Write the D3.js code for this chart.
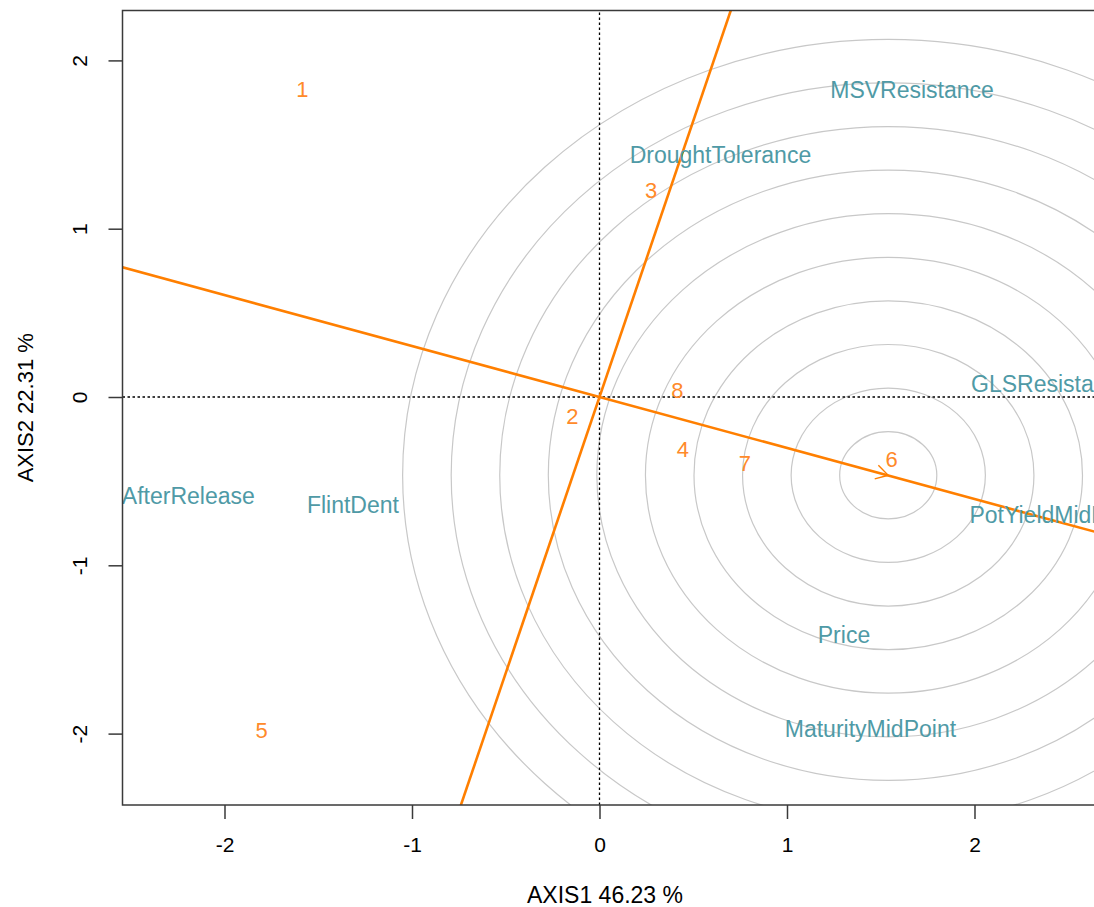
<!DOCTYPE html>
<html>
<head>
<meta charset="utf-8">
<script src="https://cdn.jsdelivr.net/npm/d3@7"></script>
<style>
  html, body { margin: 0; padding: 0; background: #ffffff; }
  svg { display: block; font-family: "Liberation Sans", Arial, sans-serif; }
</style>
</head>
<body>
<svg id="chart" width="1094" height="907"></svg>
<script>
// Individuals (orange numbers)
const pointLabels = ["1", "2", "3", "4", "5", "6", "7", "8"];
const pointX = [-1.584, -0.144, 0.275, 0.445, -1.802, 1.558, 0.776, 0.416];
const pointY = [1.827, -0.117, 1.230, -0.312, -1.979, -0.371, -0.394, 0.042];

// Variables (teal names)
const varLabels = ["MSVResistance", "DroughtTolerance", "GLSResistance", "PotYieldMidPoint",
                   "AfterRelease", "FlintDent", "Price", "MaturityMidPoint"];
const varX = [1.667, 0.645, 2.408, 2.438, -2.193, -1.315, 1.304, 1.445];
const varY = [1.824, 1.438, 0.080, -0.701, -0.585, -0.639, -1.414, -1.970];

// Preference direction: arrow tip (ideal point) and the iso-preference circles around it
const idealPoint = [1.54, -0.465];
const circleStep = 0.259;
const circleCount = 10;

// Slopes of the two lines through the origin
const lineSlopes = [-0.303, 3.28];

// Axes
const xTicks = [-2, -1, 0, 1, 2];
const yTicks = [-2, -1, 0, 1, 2];
const xTitle = "AXIS1 46.23 %";
const yTitle = "AXIS2 22.31 %";
const xDomain = [-2.544, 2.6427];
const yDomain = [-2.4242, 2.2965];

const svg = d3.select("#chart");
const plotLeft = 122.5, plotRight = 1095, plotTop = 10.5, plotBottom = 805;

const x = d3.scaleLinear().domain(xDomain).range([plotLeft, plotRight]);
const y = d3.scaleLinear().domain(yDomain).range([plotBottom, plotTop]);

const orange = "#ff7f00";
const orangeText = "#ff8a2a";
const teal = "#4f9aa6";
const frameColor = "#3a3a3a";
const fmt = d => String(d);

svg.append("defs").append("clipPath").attr("id", "plotClip")
  .append("rect").attr("x", plotLeft).attr("y", plotTop)
  .attr("width", plotRight - plotLeft).attr("height", plotBottom - plotTop);

const plot = svg.append("g").attr("clip-path", "url(#plotClip)");

// Iso-preference circles (circles in data units)
const radii = d3.range(1, circleCount + 1).map(k => k * circleStep);
plot.append("g").selectAll("ellipse").data(radii).join("ellipse")
  .attr("cx", x(idealPoint[0]))
  .attr("cy", y(idealPoint[1]))
  .attr("rx", r => x(r) - x(0))
  .attr("ry", r => y(0) - y(r))
  .attr("fill", "none")
  .attr("stroke", "#c8c8c8")
  .attr("stroke-width", 1.2);

// Dotted reference lines at zero
plot.append("line")
  .attr("x1", x(xDomain[0])).attr("x2", x(xDomain[1]))
  .attr("y1", y(0)).attr("y2", y(0))
  .attr("stroke", "#000").attr("stroke-width", 1.3).attr("stroke-dasharray", "2.5,2.5");
plot.append("line")
  .attr("x1", x(0)).attr("x2", x(0))
  .attr("y1", y(yDomain[0])).attr("y2", y(yDomain[1]))
  .attr("stroke", "#000").attr("stroke-width", 1.3).attr("stroke-dasharray", "2.5,2.5");

// Orange lines through the origin
plot.append("g").selectAll("line").data(lineSlopes).join("line")
  .attr("x1", s => x(-10)).attr("y1", s => y(-10 * s))
  .attr("x2", s => x(10)).attr("y2", s => y(10 * s))
  .attr("stroke", orange).attr("stroke-width", 2.6);

// Arrow head at the ideal point
{
  const tx = x(idealPoint[0]), ty = y(idealPoint[1]);
  const ang = Math.atan2(ty - y(0), tx - x(0));
  const len = 14, spread = Math.PI / 6;
  const p1 = [tx - len * Math.cos(ang - spread), ty - len * Math.sin(ang - spread)];
  const p2 = [tx - len * Math.cos(ang + spread), ty - len * Math.sin(ang + spread)];
  plot.append("path")
    .attr("d", d3.line()([p1, [tx, ty], p2]))
    .attr("fill", "none").attr("stroke", orange).attr("stroke-width", 1.4);
}

// Variable names
plot.append("g").selectAll("text").data(varLabels).join("text")
  .attr("x", (d, i) => x(varX[i]))
  .attr("y", (d, i) => y(varY[i]))
  .attr("dy", "0.35em")
  .attr("text-anchor", "middle")
  .attr("font-size", 23)
  .attr("fill", teal)
  .text(d => d);

// Individual labels
plot.append("g").selectAll("text").data(pointLabels).join("text")
  .attr("x", (d, i) => x(pointX[i]))
  .attr("y", (d, i) => y(pointY[i]))
  .attr("dy", "0.35em")
  .attr("text-anchor", "middle")
  .attr("font-size", 22)
  .attr("fill", orangeText)
  .text(d => d);

// Frame
svg.append("rect")
  .attr("x", plotLeft).attr("y", plotTop)
  .attr("width", plotRight - plotLeft).attr("height", plotBottom - plotTop)
  .attr("fill", "none").attr("stroke", frameColor).attr("stroke-width", 1.5);

// Bottom axis
const gx = svg.append("g").attr("transform", `translate(0,${plotBottom})`)
  .call(d3.axisBottom(x).tickValues(xTicks).tickSize(14).tickSizeOuter(0).tickPadding(18)
        .tickFormat(fmt));
gx.select(".domain").remove();
gx.selectAll(".tick line").attr("stroke", frameColor).attr("stroke-width", 1.5);
gx.selectAll(".tick text").attr("font-size", 21).attr("fill", "#000")
  .attr("font-family", "Liberation Sans, Arial, sans-serif");

// Left axis with rotated labels
const gy = svg.append("g").attr("transform", `translate(${plotLeft},0)`)
  .call(d3.axisLeft(y).tickValues(yTicks).tickSize(14).tickSizeOuter(0)
        .tickFormat(fmt));
gy.select(".domain").remove();
gy.selectAll(".tick line").attr("stroke", frameColor).attr("stroke-width", 1.5);
gy.selectAll(".tick text")
  .attr("x", 0).attr("y", 0)
  .attr("dy", "0.35em")
  .attr("text-anchor", "middle")
  .attr("transform", "translate(-42.5,0) rotate(-90)")
  .attr("font-size", 21).attr("fill", "#000")
  .attr("font-family", "Liberation Sans, Arial, sans-serif");

// Axis titles
svg.append("text")
  .attr("x", 605).attr("y", 903)
  .attr("text-anchor", "middle").attr("font-size", 23).attr("fill", "#000")
  .text(xTitle);
svg.append("text")
  .attr("transform", `translate(33,${(plotTop + plotBottom) / 2}) rotate(-90)`)
  .attr("text-anchor", "middle").attr("font-size", 22).attr("fill", "#000")
  .text(yTitle);
</script>
</body>
</html>
